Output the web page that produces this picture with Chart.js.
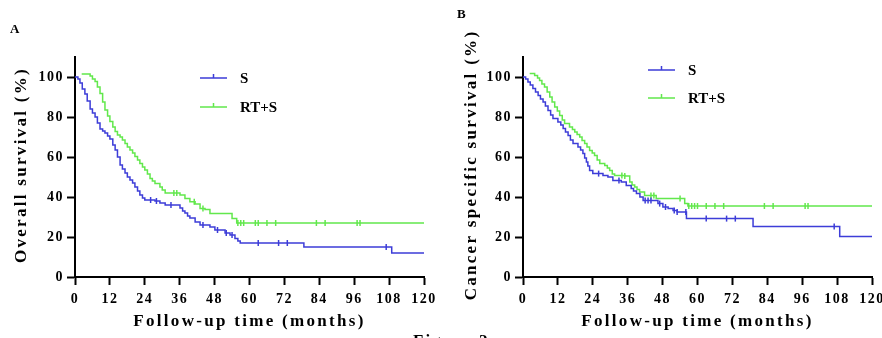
<!DOCTYPE html>
<html lang="en">
<head>
<meta charset="UTF-8">
<title>Kaplan-Meier curves</title>
<script src="https://cdn.jsdelivr.net/npm/chart.js"></script>
<style>
  body { margin: 0; background: #fff; width: 882px; height: 338px; overflow: hidden; position: relative; }
  .panel { position: absolute; top: 0; }
  .letter { position: absolute; font: bold 13px "Liberation Serif", "Times New Roman", serif; color: #000; }
  .figcap { position: absolute; left: 413px; top: 331px; font: bold 17px "Liberation Serif", serif; color: #000; letter-spacing: 2px; }
</style>
</head>
<body>
<div class="panel" style="left:0"><canvas id="chartA" width="440" height="338"></canvas></div>
<div class="panel" style="left:440px"><canvas id="chartB" width="442" height="338"></canvas></div>
<div class="letter" style="left:10px;top:21px">A</div>
<div class="letter" style="left:457px;top:6px">B</div>
<div class="figcap">Figure 2</div>

<script>
// tick labels
const xTickValues = [0, 12, 24, 36, 48, 60, 72, 84, 96, 108, 120]
const yTickValues = [0, 20, 40, 60, 80, 100]
const seriesNames = ['S', 'RT+S']

// A: overall survival
const osMonthsS = [0,1,1.7,2.5,3.4,4.2,5.2,6,6.9,7.7,8.6,9.5,10.3,11.2,12,13,13.8,14.6,15.5,16.3,17.2,18,18.9,19.8,20.6,21.5,22.3,23.2,24,27.5,29.2,31,36.1,37,37.8,38.7,39.5,41.3,43,46.4,48.1,51.6,53.3,55,56,56.8,78.7,108.9,120]
const osSurvS   = [100,99,97,94,91.5,88,84,82,80,77,74,73,72,70.5,69,66,63.5,60,56,54,52,50,48.5,47,45,43,41,39.5,38.5,38,37,36,34.5,33,32,30.5,29.5,27.5,26,25,23.5,22,21,19.3,18,17,15,12,12]
const osCensorS = [26,28,33,44,49,52,54,63,70,73,107]

const osMonthsRT = [2.3,5.2,6,6.9,7.7,8.6,9.5,10.3,11.2,12,13,13.8,14.6,15.5,16.3,17.2,18,18.9,19.8,20.6,21.5,22.3,23.2,24,24.9,25.8,26.6,27.5,29.2,30,31,36.1,37.8,39.5,41.3,43,44.7,46.4,54,55.6,120]
const osSurvRT   = [101.5,100.5,99,97.7,95,91.8,87.5,83.5,80.5,77.7,75,72.7,71,70,68.5,66.8,65,63.5,62,60.2,58.5,56.8,55,53.5,51.5,49.3,48,46.8,45,43.5,42,41,39.3,37.6,36.5,34.3,33.8,31.8,29.3,27,27]
const osCensorRT = [34,35,41,44,56,57,58,62,63,66,69,83,86,97,98]

// B: cancer specific survival
const cssMonthsS = [0,0.9,1.7,2.5,3.4,4.3,5.2,6,6.9,7.7,8.6,9.5,10.3,12,13,13.8,14.6,15.5,16.3,17.2,18.9,19.8,20.6,21.2,21.8,22.3,22.9,24,27.5,29.2,30.9,33.8,35.5,37.2,38,39,40.2,41.3,46.4,48.1,49.9,51.6,53,56.2,79.1,108.9,120]
const cssSurvS   = [100,99,97.5,96,94.2,92.5,90.8,89,87.5,85.5,83.3,81,79.2,77.5,76,74.2,72.5,70.8,68.5,66.7,65,63.5,61.7,59.5,57.5,55.5,53.3,51.7,50.8,50,48.3,47.5,45.8,44.2,43,41.7,40,38.3,36.7,35,34.2,33.3,32.5,29.2,25.3,20.3,20.3]
const cssCensorS = [26,33,42,43,44,47,49,52,53,56,63,70,73,107]

const cssMonthsRT = [2.3,4,5,5.7,6.5,7.4,8.3,9.2,10,10.9,11.8,12.6,13.5,14.3,16,17,17.8,18.6,19.5,20.3,21.2,22,22.9,23.8,24.6,25.5,26.4,28.1,29,29.8,30.7,31.5,35,36.7,37.5,38.4,39.2,40.1,41.8,45.8,55.6,56.7,120]
const cssSurvRT   = [101.7,100.8,99.5,98.3,96.5,95,92.5,90,87.5,85,83,80.8,78.5,76.7,75,73.8,72.5,71.2,70,68.3,66.7,65,63.3,62,60.8,58.5,56.7,55.8,54.5,53.3,51.5,50.8,50.5,47.5,46,45,43.8,42.5,40.8,39.2,36.7,35.5,35.5]
const cssCensorRT = [34,35,44,45,54,57,58,59,60,63,66,69,83,86,97,98]

const blue = '#3d3dd8'
const green = '#62e84c'
const serif = '"Liberation Serif", "Times New Roman", serif'

// value of the step curve at time t (for censor marks)
function survAt(months, surv, t) {
    let v = surv[0]
    for (let i = 0; i < months.length; i++) {
        if (months[i] <= t) v = surv[i]
    }
    return v
}

function curve(label, months, surv, color) {
    return {
        label: label,
        data: months.map((m, i) => ({ x: m, y: surv[i] })),
        borderColor: color,
        borderWidth: 1.5,
        pointRadius: 0,
        stepped: 'before',   // hold the previous value, drop at the event time
        fill: false
    }
}

function censors(months, surv, times, color) {
    return {
        label: '',
        isCensor: true,
        data: times.map(t => ({ x: t, y: survAt(months, surv, t) })),
        showLine: false,
        borderColor: color,
        borderWidth: 1.5,
        pointStyle: 'line',
        rotation: 90,
        pointRadius: 3,
        pointHoverRadius: 3
    }
}

const panelText = {
    id: 'panelText',
    beforeDraw(chart) {
        chart.ctx.letterSpacing = '1.5px'
    },
    afterDraw(chart, args, opts) {
        const ctx = chart.ctx
        const a = chart.chartArea
        ctx.save()
        ctx.fillStyle = '#000'
        ctx.letterSpacing = '2.3px'
        ctx.font = 'bold 17px ' + serif
        ctx.textAlign = 'center'
        ctx.textBaseline = 'middle'
        ctx.fillText(opts.xTitle, (a.left + a.right) / 2, 322)
        ctx.save()
        ctx.translate(opts.yTitleX, (a.top + a.bottom) / 2 - 2)
        ctx.rotate(-Math.PI / 2)
        ctx.fillText(opts.yTitle, 0, 0)
        ctx.restore()

        // legend
        ctx.letterSpacing = '0px'
        ctx.font = 'bold 15px ' + serif
        ctx.textAlign = 'left'
        const lines = chart.data.datasets.filter(d => !d.isCensor)
        lines.forEach((d, i) => {
            const y = opts.legendY + i * opts.legendGap
            const x0 = a.left + 125
            ctx.strokeStyle = d.borderColor
            ctx.lineWidth = 1.5
            ctx.beginPath()
            ctx.moveTo(x0, y)
            ctx.lineTo(x0 + 27, y)
            ctx.moveTo(x0 + 13.5, y)
            ctx.lineTo(x0 + 13.5, y - 4)
            ctx.stroke()
            ctx.fillText(d.label, x0 + 40, y + 1)
        })
        ctx.restore()
    }
}

function makePanel(id, cfg) {
    const tickFont = { family: serif, size: 14, weight: 'bold' }
    return new Chart(document.getElementById(id), {
        type: 'line',
        data: {
            datasets: [
                curve(seriesNames[0], cfg.monthsS, cfg.survS, blue),
                curve(seriesNames[1], cfg.monthsRT, cfg.survRT, green),
                censors(cfg.monthsS, cfg.survS, cfg.censorS, blue),
                censors(cfg.monthsRT, cfg.survRT, cfg.censorRT, green)
            ]
        },
        options: {
            responsive: false,
            animation: false,
            events: [],
            layout: { padding: { left: 0, right: cfg.padRight, top: 57, bottom: 0 } },
            plugins: {
                legend: { display: false },
                tooltip: { enabled: false },
                panelText: { xTitle: 'Follow-up time (months)', yTitle: cfg.yTitle, yTitleX: cfg.yTitleX, legendY: cfg.legendY, legendGap: cfg.legendGap }
            },
            scales: {
                x: {
                    type: 'linear',
                    min: 0,
                    max: 120,
                    afterBuildTicks: s => { s.ticks = xTickValues.map(v => ({ value: v })) },
                    afterFit: s => { s.height = 61; s.paddingLeft = 0; s.paddingRight = 0 },
                    ticks: { font: tickFont, color: '#000', padding: 6, maxRotation: 0, autoSkip: false },
                    grid: { drawOnChartArea: false, drawTicks: true, tickLength: 8, tickColor: '#000', tickWidth: 2 },
                    border: { color: '#000', width: 2 }
                },
                y: {
                    min: 0,
                    max: 110,
                    afterBuildTicks: s => { s.ticks = yTickValues.map(v => ({ value: v })) },
                    afterFit: s => { s.width = cfg.yWidth; s.paddingTop = 0; s.paddingBottom = 0 },
                    ticks: { font: tickFont, color: '#000', padding: 3 },
                    grid: { drawOnChartArea: false, drawTicks: true, tickLength: 8, tickColor: '#000', tickWidth: 2 },
                    border: { color: '#000', width: 2 }
                }
            }
        },
        plugins: [panelText]
    })
}

makePanel('chartA', {
    monthsS: osMonthsS, survS: osSurvS, censorS: osCensorS,
    monthsRT: osMonthsRT, survRT: osSurvRT, censorRT: osCensorRT,
    yTitle: 'Overall survival (%)', yTitleX: 22, yWidth: 75, padRight: 16,
    legendY: 78, legendGap: 29
})

makePanel('chartB', {
    monthsS: cssMonthsS, survS: cssSurvS, censorS: cssCensorS,
    monthsRT: cssMonthsRT, survRT: cssSurvRT, censorRT: cssCensorRT,
    yTitle: 'Cancer specific survival (%)', yTitleX: 31.5, yWidth: 83, padRight: 10,
    legendY: 70, legendGap: 28
})
</script>
</body>
</html>
